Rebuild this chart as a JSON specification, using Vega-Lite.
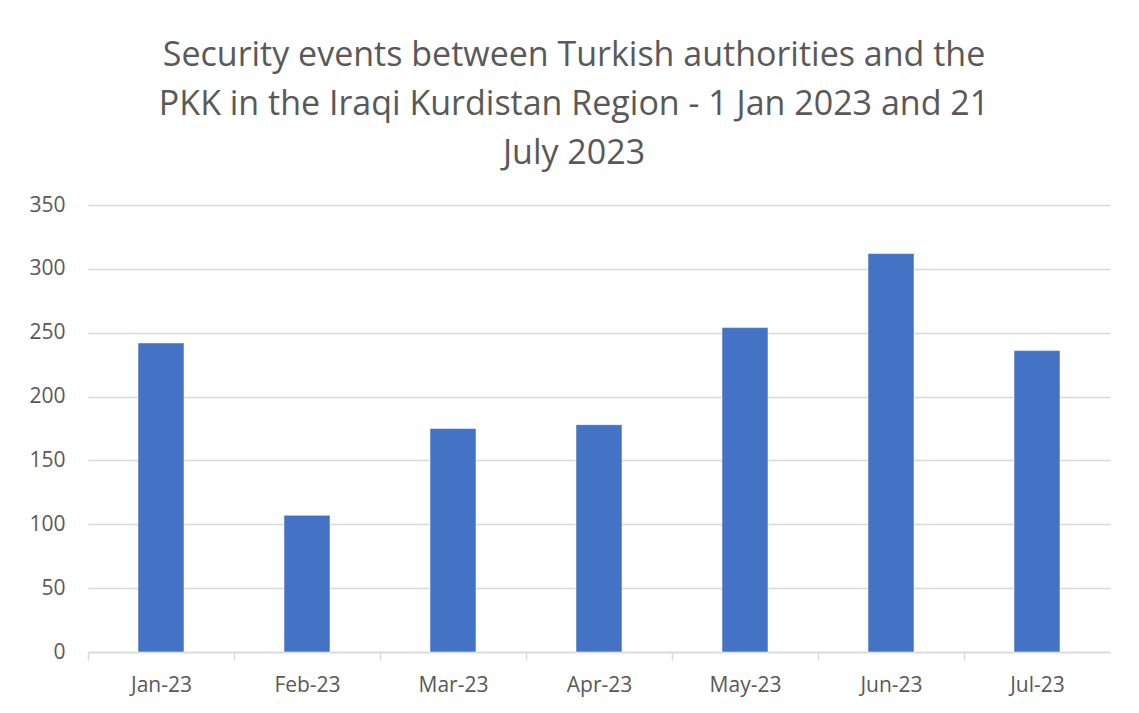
{
  "$schema": "https://vega.github.io/schema/vega-lite/v6.json",
  "width": 1022,
  "height": 447,
  "autosize": {"type": "none"},
  "padding": {"left": 88, "top": 205, "right": 29, "bottom": 61},
  "background": "white",
  "title": {
    "text": ["Security events between Turkish authorities and the", "PKK in the Iraqi Kurdistan Region - 1 Jan 2023 and 21", "July 2023"],
    "anchor": "middle",
    "dx": -25,
    "offset": 23,
    "fontSize": 34,
    "font": "Open Sans",
    "fontWeight": "normal",
    "color": "#595959",
    "lineHeight": 49
  },
  "data": {
    "values": [
      {"month": "Jan-23", "events": 242},
      {"month": "Feb-23", "events": 107},
      {"month": "Mar-23", "events": 175},
      {"month": "Apr-23", "events": 178},
      {"month": "May-23", "events": 254},
      {"month": "Jun-23", "events": 312},
      {"month": "Jul-23", "events": 236}
    ]
  },
  "mark": {"type": "bar", "color": "#4472C4", "stroke": "#ffffff", "strokeWidth": 0.5},
  "encoding": {
    "x": {
      "field": "month",
      "type": "ordinal",
      "sort": null,
      "scale": {"paddingInner": 0.685, "paddingOuter": 0.3425},
      "axis": {
        "title": null,
        "labelAngle": 0,
        "labelFontSize": 21,
        "labelFont": "Open Sans",
        "labelColor": "#595959",
        "labelPadding": 14,
        "labelOffset": 73,
        "domainColor": "#d9d9d9",
        "domainWidth": 1.5,
        "ticks": true,
        "tickColor": "#d9d9d9",
        "tickWidth": 1.5,
        "tickSize": 8,
        "tickOffset": -73,
        "grid": false
      }
    },
    "y": {
      "field": "events",
      "type": "quantitative",
      "scale": {"domain": [0, 350]},
      "axis": {
        "title": null,
        "values": [0, 50, 100, 150, 200, 250, 300, 350],
        "labelFontSize": 21,
        "labelFont": "Open Sans",
        "labelColor": "#595959",
        "labelPadding": 23,
        "domain": false,
        "ticks": false,
        "grid": true,
        "gridColor": "#d9d9d9",
        "gridWidth": 1.5
      }
    }
  },
  "config": {"view": {"stroke": null}}
}
